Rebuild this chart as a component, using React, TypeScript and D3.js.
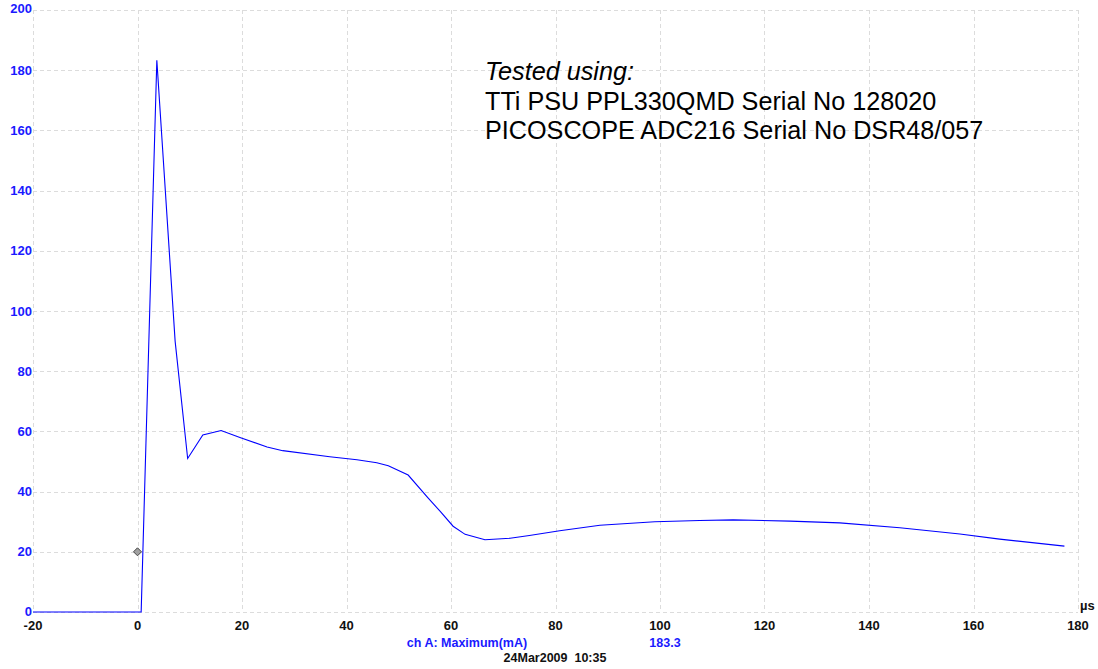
import { useRef, useEffect } from "react";
import * as d3 from "d3";

// trace read from the scope capture (time in µs, current in mA)
const timeUs = [-20, 0.7, 3.7, 7.2, 9.6, 12.5, 16, 19.6, 24.8, 27.8, 36.8, 42, 45.8, 48, 51.8, 55.6, 57.9, 60.4, 62.7, 66.5, 71.3, 75, 80.8, 88.5, 99, 107.6, 114, 124.9, 134.4, 145.9, 157.4, 165, 177.4];
const currentMa = [0, 0, 183.3, 90, 51, 58.8, 60.3, 58, 54.8, 53.6, 51.6, 50.6, 49.6, 48.6, 45.5, 37.9, 33.5, 28.5, 25.8, 24, 24.5, 25.4, 27, 28.8, 30, 30.4, 30.6, 30.2, 29.6, 28, 25.9, 24.2, 21.9];

const xTicks = [-20, 0, 20, 40, 60, 80, 100, 120, 140, 160, 180];
const yTicks = [0, 20, 40, 60, 80, 100, 120, 140, 160, 180, 200];

const marker = { t: 0, v: 20 };
const noteLines = ["Tested using:", "TTi PSU PPL330QMD Serial No 128020", "PICOSCOPE ADC216 Serial No DSR48/057"];
const channelLabel = "ch A: Maximum(mA)";
const channelValue = "183.3";
const stamp = "24Mar2009\u00a0\u00a010:35";

const width = 1098;
const height = 669;

export default function App() {
  const ref = useRef<SVGSVGElement>(null);

  useEffect(() => {
    if (!ref.current) return;
    const svg = d3.select(ref.current);
    svg.selectAll("*").remove();

    const x = d3.scaleLinear().domain([-20, 180]).range([33, 1078]);
    const y = d3.scaleLinear().domain([0, 200]).range([612, 10]);
    const font = "'Liberation Sans', Arial, sans-serif";

    // grid
    const grid = svg.append("g").attr("stroke", "#dcdcdc").attr("stroke-dasharray", "4 3").attr("stroke-width", 1);
    grid
      .selectAll("line.v")
      .data(xTicks)
      .join("line")
      .attr("x1", (d) => Math.round(x(d)) + 0.5)
      .attr("x2", (d) => Math.round(x(d)) + 0.5)
      .attr("y1", y(200))
      .attr("y2", y(0));
    grid
      .selectAll("line.h")
      .data(yTicks)
      .join("line")
      .attr("x1", x(-20))
      .attr("x2", x(180))
      .attr("y1", (d) => Math.round(y(d)) + 0.5)
      .attr("y2", (d) => Math.round(y(d)) + 0.5);

    // y tick labels
    svg
      .append("g")
      .selectAll("text")
      .data(yTicks)
      .join("text")
      .attr("x", 32)
      .attr("y", (d) => (d === 200 ? y(d) - 2 : d === 0 ? y(d) - 1 : y(d)))
      .attr("dy", "0.36em")
      .attr("text-anchor", "end")
      .attr("fill", "#1a1aff")
      .attr("font-family", font)
      .attr("font-weight", "bold")
      .attr("font-size", 13)
      .text((d) => d);

    // x tick labels
    svg
      .append("g")
      .selectAll("text")
      .data(xTicks)
      .join("text")
      .attr("x", (d) => x(d))
      .attr("y", 630)
      .attr("text-anchor", "middle")
      .attr("fill", "#111")
      .attr("font-family", font)
      .attr("font-weight", "bold")
      .attr("font-size", 13)
      .text((d) => d);

    svg
      .append("text")
      .attr("x", 1080)
      .attr("y", 610)
      .attr("fill", "#111")
      .attr("font-family", font)
      .attr("font-weight", "bold")
      .attr("font-size", 13)
      .text("µs");

    // trace
    const pts = timeUs.map((t, i) => [t, currentMa[i]] as [number, number]);
    const line = d3
      .line<[number, number]>()
      .x((d) => x(d[0]))
      .y((d) => y(d[1]));
    svg
      .append("path")
      .attr("d", line(pts))
      .attr("fill", "none")
      .attr("stroke", "#0000ff")
      .attr("stroke-width", 1.1);

    // trigger marker
    const mx = x(marker.t);
    const my = y(marker.v);
    svg
      .append("path")
      .attr("d", `M${mx},${my - 4}L${mx + 4},${my}L${mx},${my + 4}L${mx - 4},${my}Z`)
      .attr("fill", "#a0a0a0")
      .attr("stroke", "#444")
      .attr("stroke-width", 1);

    // annotation
    svg
      .append("g")
      .selectAll("text")
      .data(noteLines)
      .join("text")
      .attr("x", 485)
      .attr("y", (_d, i) => 80 + i * 29.5)
      .attr("fill", "#000")
      .attr("font-family", font)
      .attr("font-size", 25.2)
      .attr("font-style", (_d, i) => (i === 0 ? "italic" : "normal"))
      .text((d) => d);

    // footer
    const footer = [
      { text: channelLabel, x: 467, y: 647, fill: "#1a1aff" },
      { text: channelValue, x: 665, y: 647, fill: "#1a1aff" },
      { text: stamp, x: 555, y: 662, fill: "#111" },
    ];
    svg
      .append("g")
      .selectAll("text")
      .data(footer)
      .join("text")
      .attr("x", (d) => d.x)
      .attr("y", (d) => d.y)
      .attr("text-anchor", "middle")
      .attr("fill", (d) => d.fill)
      .attr("font-family", font)
      .attr("font-weight", "bold")
      .attr("font-size", 12.5)
      .text((d) => d.text);
  }, []);

  return (
    <svg
      ref={ref}
      width={width}
      height={height}
      style={{ position: "absolute", left: 0, top: 0, background: "#fff" }}
    />
  );
}
